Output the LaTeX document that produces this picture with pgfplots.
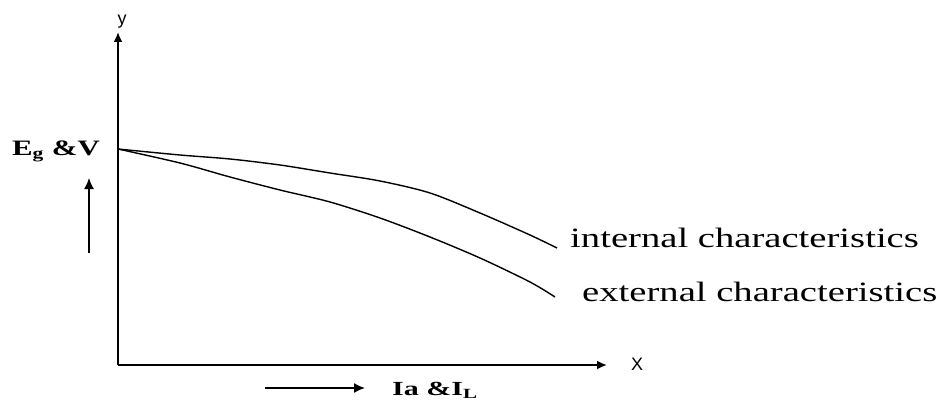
\documentclass[border=0pt]{standalone}
\usepackage{pgfplots}
\pgfplotsset{compat=1.18}
\usepackage{fontspec}
\setmainfont{Liberation Serif}
\setsansfont{Liberation Sans}
\usetikzlibrary{arrows.meta}
\begin{document}
\begin{tikzpicture}[x=1pt,y=1pt]
\begin{axis}[
  x=1pt, y=1pt,
  anchor=origin, at={(0,0)},
  xmin=0, xmax=489, ymin=0, ymax=333,
  axis x line=bottom, axis y line=left,
  axis line style={line width=1.8pt, -{Latex[length=10pt,width=9pt]}},
  xtick=\empty, ytick=\empty,
  clip=false,
]
\addplot[black, line width=1.4pt, smooth] coordinates {
(0,216) (62,210) (112,206) (162,200) (212,192) (262,184) (312,172) (362,152) (412,130) (439,117)};
\addplot[black, line width=1.4pt, smooth] coordinates {
(0,216) (62,202) (112,188) (162,175) (212,163) (262,147) (312,128) (362,107) (412,83) (437,68)};
\end{axis}
\node[font=\sffamily\fontsize{18}{18}\selectfont] at (4,343) {y};
\node[font=\sffamily\fontsize{18}{18}\selectfont] at (519,1) {X};
\node[font=\bfseries\fontsize{22}{22}\selectfont] at (-62,214) {\scalebox{1.4}[1]{E\textsubscript{g} \&V}};
\draw[line width=1.5pt, -{Latex[length=11pt,width=10pt]}] (-29,112) -- (-29,187);
\draw[line width=1.5pt, -{Latex[length=11pt,width=10pt]}] (147,-23) -- (247,-23);
\node[font=\bfseries\fontsize{20}{20}\selectfont, anchor=west, inner sep=0pt] at (274,-25) {\scalebox{1.5}[1]{Ia \&I\textsubscript{L}}};
\node[anchor=west, inner sep=0pt, font=\fontsize{28}{28}\selectfont] at (452,127) {\scalebox{1.38}[1]{internal characteristics}};
\node[anchor=west, inner sep=0pt, font=\fontsize{28}{28}\selectfont] at (464,73) {\scalebox{1.38}[1]{external characteristics}};
\useasboundingbox (-118,-40) rectangle (821,365);
\end{tikzpicture}
\end{document}
